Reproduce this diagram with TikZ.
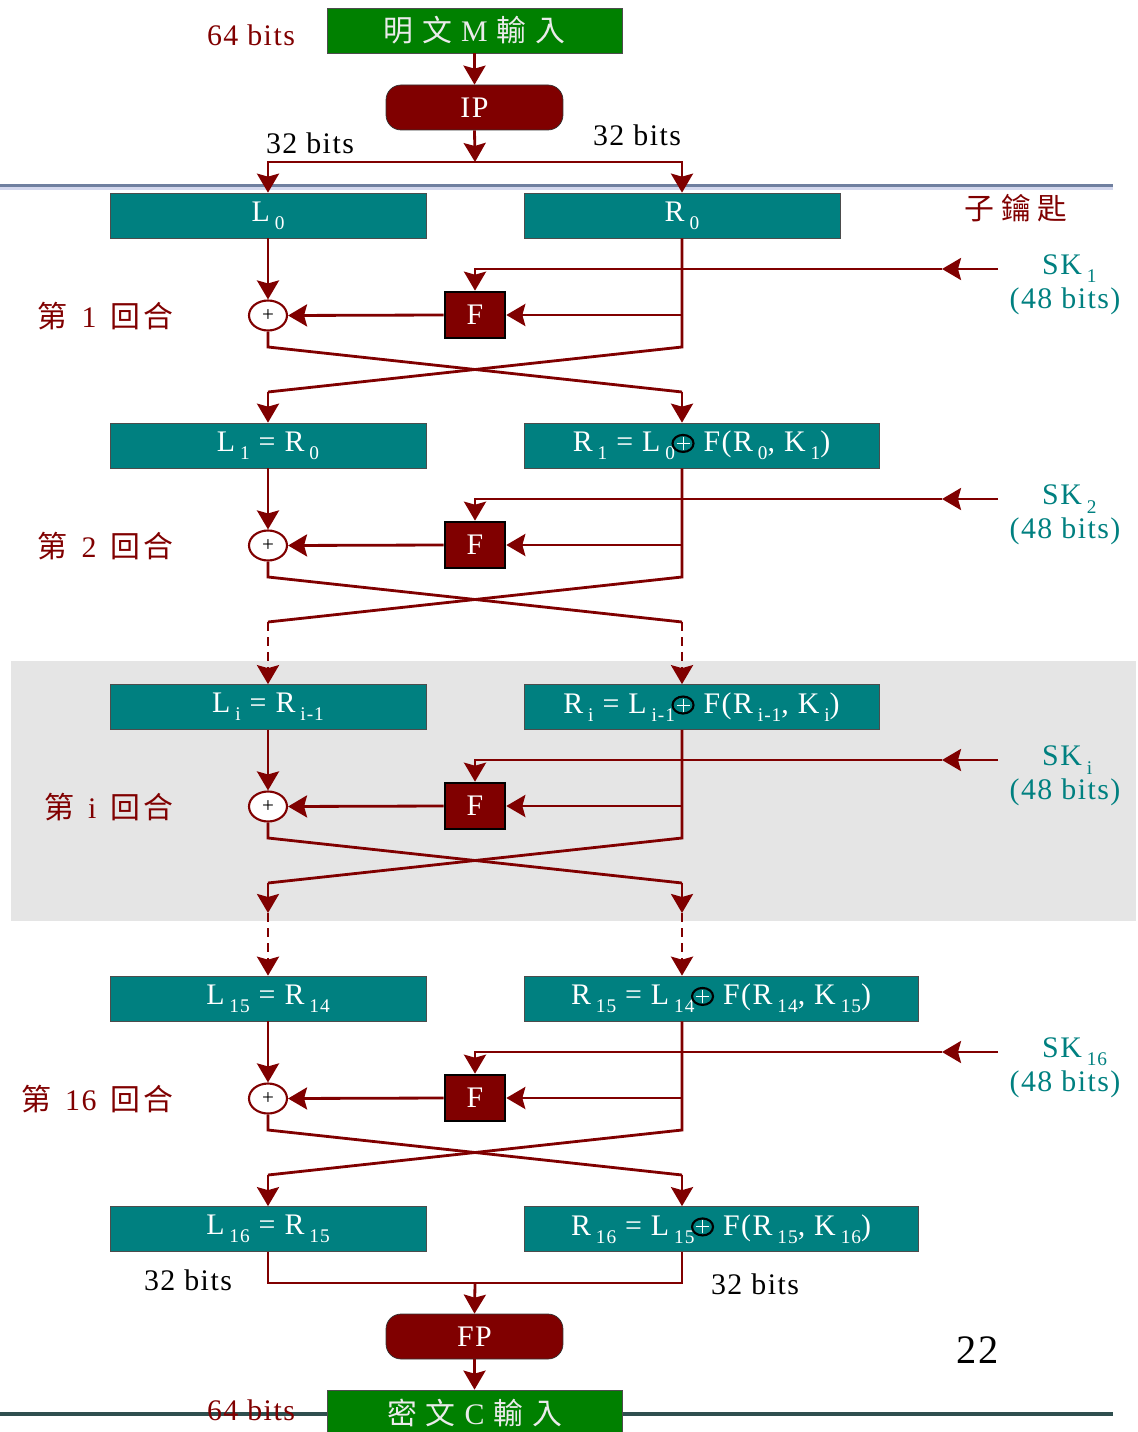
\documentclass[tikz,border=0pt]{standalone}
\usepackage{fontspec}
\setmainfont{Liberation Serif}[LetterSpace=5]
\newfontfamily\cjk{Noto Sans CJK TC}
\usetikzlibrary{arrows.meta,shapes.geometric,positioning,calc}
\definecolor{darkred}{HTML}{800000}
\definecolor{tealc}{HTML}{008080}
\definecolor{greenc}{HTML}{008000}
\definecolor{shadec}{HTML}{E5E5E5}
\definecolor{rulec}{HTML}{2F4F4F}
\definecolor{toprule}{HTML}{7080A0}
\definecolor{toplight}{HTML}{D4D8EE}
\newcommand\idx[1]{\,\raisebox{-0.6ex}{\fontsize{11}{12}\selectfont #1}}
\newcommand\xorop{\hspace{-2pt}\tikz[baseline=-0.6ex,x=1cm,y=1cm]{\draw[black,line width=1.2pt] (0,0) ellipse (0.21 and 0.17);
  \draw[white,line width=0.6pt] (-0.13,0) -- (0.13,0) (0,-0.13) -- (0,0.13);}}
\tikzset{
  wire/.style={draw=darkred, line width=1.6pt},
  arr/.style={wire, -{Stealth[length=0.38cm,width=0.44cm,inset=0.06cm]}},
  dashline/.style={dash pattern=on 0.18cm off 0.12cm},
  databox/.style={draw=black!70, fill=tealc, text=white, minimum height=0.9cm, inner sep=0pt},
  iobox/.style={draw=black!70, fill=greenc, text=white!92!black, minimum width=5.9cm, minimum height=0.9cm, inner sep=0pt},
  permbox/.style={draw=black!80, fill=darkred, text=white, rounded corners=0.3cm, minimum width=3.54cm, minimum height=0.9cm},
  fbox/.style={draw=black, line width=1.5pt, fill=darkred, text=white, minimum width=1.2cm, minimum height=0.92cm, inner sep=0pt},
  xorbox/.style={ellipse, draw=darkred, line width=1.2pt, fill=white, minimum width=0.76cm, minimum height=0.6cm, inner sep=0pt, font=\fontsize{12}{12}\selectfont},
  redlab/.style={text=darkred},
  keylab/.style={text=tealc},
}
\begin{document}
\begin{tikzpicture}[x=0.02cm, y=-0.02cm, font=\fontsize{17}{20}\selectfont]
\useasboundingbox (0,0) rectangle (1138,1432);
% background of round i and the rules
\fill[shadec] (11,661) rectangle (1136,921);
\draw[toplight, line width=1.2pt] (0,188.5) -- (1113,188.5);
\draw[toprule, line width=1.2pt] (0,185.5) -- (1113,185.5);
\draw[rulec, line width=1.8pt] (0,1414) -- (1113,1414);
\coordinate (rcol) at (682,0);

% input and initial permutation
\node[iobox] (M) at (474.5,30.5) {{\cjk 明\hspace{5pt}文}\ M\ {\cjk 輸\hspace{5pt}入}};
\node[redlab] (inbits) at (251,35) {64 bits};
\node[permbox] (IP) at (474.5,107.5) {IP};
\coordinate (split) at (475,162);
\node (lbits) at (310,143) {32 bits};
\node (rbits) at (637,135) {32 bits};
\node[redlab] (subkeys) at (1016,208) {\cjk 子\hspace{4pt}鑰\hspace{4pt}匙};

% halves
\node[databox, minimum width=6.32cm] (L0) at (268,215.5) {L\idx{0}};
\node[databox, minimum width=6.32cm] (R0) at (682,215.5) {R\idx{0}};
\node[databox, minimum width=6.32cm] (L1) at (268,445.5) {L\idx{1} = R\idx{0}};
\node[databox, minimum width=7.1cm] (R1) at (701.5,445.5) {R\idx{1} = L\idx{0}\xorop{} F(R\idx{0}, K\idx{1})};
\node[databox, minimum width=6.32cm] (Li) at (268,707) {L\idx{i} = R\idx{i-1}};
\node[databox, minimum width=7.1cm] (Ri) at (701.5,707) {R\idx{i} = L\idx{i-1}\xorop{} F(R\idx{i-1}, K\idx{i})};
\node[databox, minimum width=6.32cm] (L15) at (268,998.5) {L\idx{15} = R\idx{14}};
\node[databox, minimum width=7.88cm] (R15) at (721,998.5) {R\idx{15} = L\idx{14}\xorop{} F(R\idx{14}, K\idx{15})};
\node[databox, minimum width=6.32cm] (L16) at (268,1229) {L\idx{16} = R\idx{15}};
\node[databox, minimum width=7.88cm] (R16) at (721,1229) {R\idx{16} = L\idx{15}\xorop{} F(R\idx{15}, K\idx{16})};

\draw[arr] (M.south) -- (IP.north);
\draw[arr] (IP.south) -- (split);
\draw[arr] (split) -| (L0.north);
\draw[arr] (split) -| (R0.north -| rcol);

% rounds
\foreach \y/\rn/\pr in {193/1/0, 423/2/1, 684/i/i, 976/16/15} {
  \node[fbox] (F\rn) at (475,\y+122) {F};
  \node[xorbox] (x\rn) at (268,\y+122.5) {+};
  \node[redlab, anchor=east] (round\rn) at (180,\y+123) {{\cjk 第}\hspace{8pt}\rn\hspace{8pt}{\cjk 回\hspace{2pt}合}};
  \node[keylab, anchor=west] (sk\rn) at (1036,\y+76) {SK\idx{\rn}};
  \node[keylab] (skbits\rn) at (1065,\y+108) {(48 bits)};
  \coordinate (kin\rn) at (998,\y+76);
  \coordinate (ktip\rn) at (942,\y+76);
  \coordinate (a\rn) at (268,\y+154);
  \coordinate (b\rn) at (682,\y+154);
  \coordinate (c\rn) at (268,\y+199);
  \coordinate (d\rn) at (682,\y+199);
  \draw[arr] (kin\rn) -- (ktip\rn);
  \draw[arr] (ktip\rn) -| (F\rn.north);
  \draw[arr] (L\pr.south) -- (x\rn.north);
  \draw[arr] (F\rn.east -| rcol) -- (F\rn.east);
  \draw[arr] (F\rn.west) -- (x\rn.east);
  \draw[wire] (x\rn.south) -- (a\rn) -- (d\rn);
  \draw[wire] (R\pr.south -| rcol) -- (b\rn) -- (c\rn);
}

% between the rounds
\draw[arr] (c1) -- (L1.north);
\draw[arr] (d1) -- (R1.north -| rcol);
\draw[arr, dashline] (c2) -- (Li.north);
\draw[arr, dashline] (d2) -- (Ri.north -| rcol);
\coordinate (li) at (268,913);
\coordinate (ri) at (682,913);
\draw[arr] (ci) -- (li);
\draw[arr] (di) -- (ri);
\draw[arr, dashline] (li) -- (L15.north);
\draw[arr, dashline] (ri) -- (R15.north -| rcol);
\draw[arr] (c16) -- (L16.north);
\draw[arr] (d16) -- (R16.north -| rcol);

% final permutation and output
\coordinate (join) at (475,1283);
\draw[wire] (L16.south) |- (join) -| (R16.south -| rcol);
\node (obitsl) at (188,1280) {32 bits};
\node (obitsr) at (755,1284) {32 bits};
\node[permbox] (FP) at (474.5,1336.5) {FP};
\node[iobox] (C) at (474.5,1412.5) {{\cjk 密\hspace{5pt}文}\ C\ {\cjk 輸\hspace{5pt}入}};
\node[redlab] (outbits) at (251,1410) {64 bits};
\node[font=\fontsize{23}{26}\selectfont] (page) at (978,1350) {22};
\draw[arr] (join) -- (FP.north);
\draw[arr] (FP.south) -- (C.north);
\end{tikzpicture}
\end{document}
